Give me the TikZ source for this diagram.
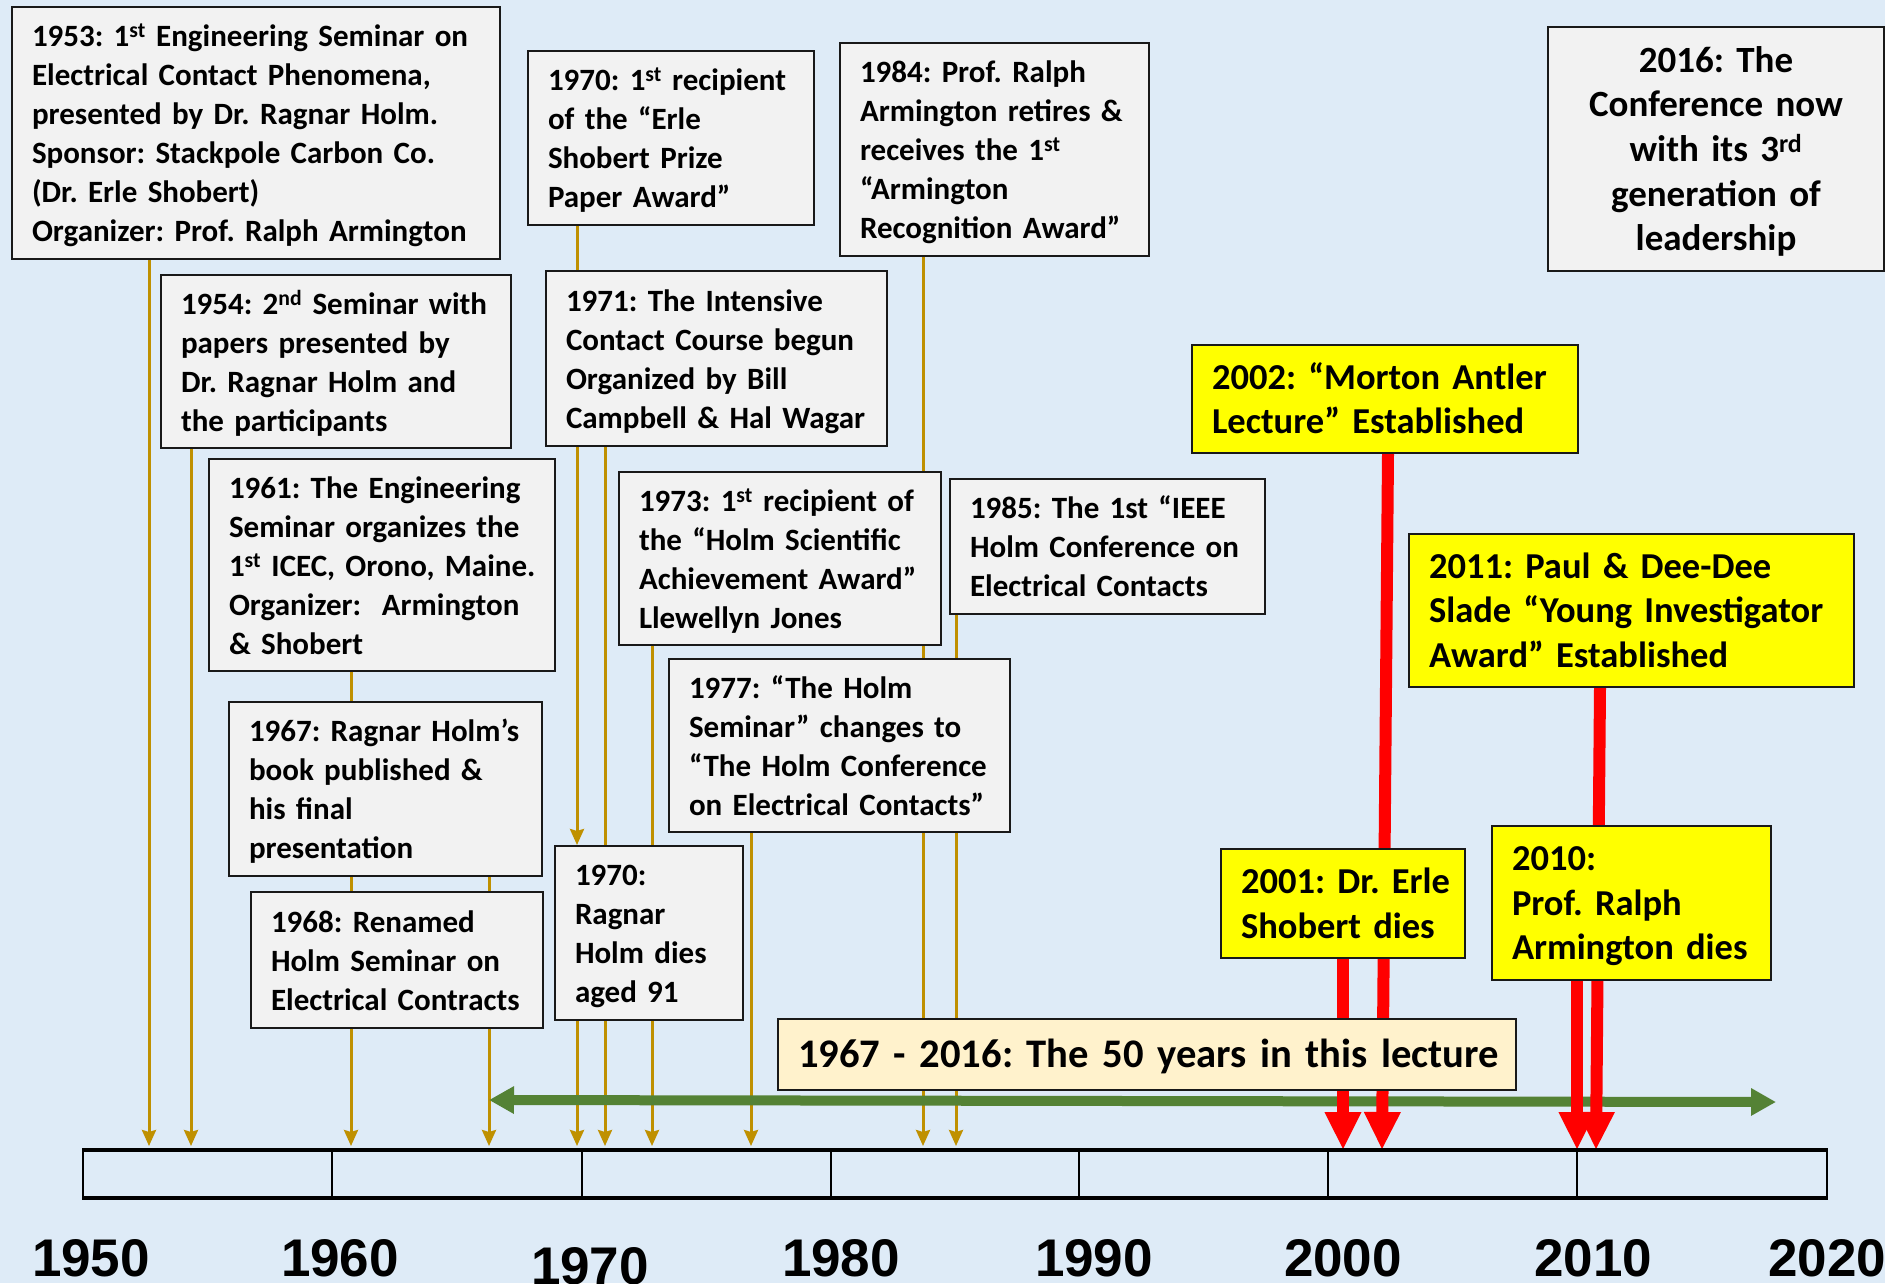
\documentclass[tikz,border=0pt]{standalone}
\usepackage{fontspec}
\setmainfont{Carlito}
\newfontfamily\yearfont{Liberation Sans}
\usetikzlibrary{arrows.meta}
\definecolor{bgblue}{HTML}{DEEBF7}
\definecolor{boxgray}{HTML}{F2F2F2}
\definecolor{goldc}{HTML}{BF9000}
\definecolor{greenarr}{HTML}{548235}
\definecolor{beige}{HTML}{FFF2CC}
\definecolor{yel}{HTML}{FFFF00}
\pgfdeclarelayer{bgfill}
\pgfdeclarelayer{conn}
\pgfsetlayers{bgfill,conn,main}
\newcommand{\Lns}[1]{\raisebox{-3.5pt}[\height][\depth]{\begin{tabular}{@{}l@{}}#1\end{tabular}}}
\newcommand{\Cns}[1]{\raisebox{-3.5pt}[\height][\depth]{\begin{tabular}{@{}c@{}}#1\end{tabular}}}
\frenchspacing
\tikzset{
 gbox/.style={draw=black!90, line width=2pt, fill=boxgray, anchor=north west, inner xsep=20pt, inner ysep=0pt, align=left, font=\bfseries\fontsize{31}{39}\selectfont},
 ybox/.style={gbox, fill=yel, font=\bfseries\fontsize{36.5}{44.5}\selectfont},
 sz/.style n args={3}{minimum width=#1, minimum height=#2, text width=#3},
 gline/.style={goldc, line width=3pt},
 garrow/.style={gline, -{Stealth[length=16pt,width=14pt,inset=2pt]}},
 rarrow/.style={red, line width=12pt, -{Triangle[length=38pt,width=34pt]}},
 garr/.style={greenarr, line width=10pt, {Triangle[length=25pt,width=26pt]}-{Triangle[length=25pt,width=26pt]}},
 yearlbl/.style={font=\yearfont\bfseries\fontsize{53}{60}\selectfont, anchor=base, inner sep=0pt},
}
\begin{document}
\begin{tikzpicture}[x=1pt,y=-1pt]
\begin{pgfonlayer}{bgfill}
\fill[bgblue] (0,0) rectangle (1885,1283);
\end{pgfonlayer}
\useasboundingbox (0,0) rectangle (1885,1283);

% boxes
\node[gbox, sz={488pt}{252pt}{448pt}] (b1953) at (11,6) {\Lns{1953: 1\textsuperscript{st} Engineering Seminar on\\Electrical Contact Phenomena,\\presented by Dr. Ragnar Holm.\\Sponsor: Stackpole Carbon Co.\\(Dr. Erle Shobert)\\Organizer: Prof. Ralph Armington}};
\node[gbox, sz={286pt}{174pt}{246pt}] (b1970a) at (527,50) {\Lns{1970: 1\textsuperscript{st} recipient\\of the “Erle\\Shobert Prize\\Paper Award”}};
\node[gbox, sz={309pt}{213pt}{269pt}] (b1984) at (839,42) {\Lns{1984: Prof. Ralph\\Armington retires \&\\receives the 1\textsuperscript{st}\\“Armington\\Recognition Award”}};
\node[gbox, sz={336pt}{244pt}{296pt}, align=center, font=\bfseries\fontsize{37}{44.6}\selectfont] (b2016) at (1547,26) {\Cns{2016: The\\Conference now\\with its 3\textsuperscript{rd}\\generation of\\leadership}};
\node[gbox, sz={350pt}{173pt}{310pt}] (b1954) at (160,274) {\Lns{1954: 2\textsuperscript{nd} Seminar with\\papers presented by\\Dr. Ragnar Holm and\\the participants}};
\node[gbox, sz={341pt}{175pt}{301pt}] (b1971) at (545,270) {\Lns{1971: The Intensive\\Contact Course begun\\Organized by Bill\\Campbell \& Hal Wagar}};
\node[ybox, sz={386pt}{108pt}{346pt}] (b2002) at (1191,344) {\Lns{2002: “Morton Antler\\Lecture” Established}};
\node[gbox, sz={346pt}{212pt}{306pt}] (b1961) at (208,458) {\Lns{1961: The Engineering\\Seminar organizes the\\1\textsuperscript{st} ICEC, Orono, Maine.\\Organizer:\ \ Armington\\\& Shobert}};
\node[gbox, sz={322pt}{173pt}{282pt}] (b1973) at (618,471) {\Lns{1973: 1\textsuperscript{st} recipient of\\the “Holm Scientific\\Achievement Award”\\Llewellyn Jones}};
\node[gbox, sz={315pt}{135pt}{275pt}] (b1985) at (949,478) {\Lns{1985: The 1st “IEEE\\Holm Conference on\\Electrical Contacts}};
\node[ybox, sz={445pt}{153pt}{405pt}] (b2011) at (1408,533) {\Lns{2011: Paul \& Dee-Dee\\Slade “Young Investigator\\Award” Established}};
\node[gbox, sz={341pt}{173pt}{301pt}] (b1977) at (668,658) {\Lns{1977: “The Holm\\Seminar” changes to\\“The Holm Conference\\on Electrical Contacts”}};
\node[gbox, sz={313pt}{174pt}{273pt}] (b1967) at (228,701) {\Lns{1967: Ragnar Holm’s\\book published \&\\his final\\presentation}};
\node[gbox, sz={292pt}{136pt}{252pt}] (b1968) at (250,891) {\Lns{1968: Renamed\\Holm Seminar on\\Electrical Contracts}};
\node[gbox, sz={188pt}{174pt}{148pt}] (b1970b) at (554,845) {\Lns{1970:\\Ragnar\\Holm dies\\aged 91}};
\node[ybox, sz={244pt}{109pt}{204pt}] (b2001) at (1220,848) {\Lns{2001: Dr. Erle\\Shobert dies}};
\node[ybox, sz={279pt}{154pt}{239pt}] (b2010) at (1491,825) {\Lns{2010:\\Prof. Ralph\\Armington dies}};
\node[gbox, fill=beige, sz={738pt}{71pt}{698pt}, align=center, font=\bfseries\fontsize{40.6}{48}\selectfont] (bspan) at (777,1018) {\Cns{1967 - 2016: The 50 years in this lecture}};

% timeline coordinates
\coordinate (t53) at (149,1146);
\coordinate (t54) at (191,1146);
\coordinate (t61) at (351,1146);
\coordinate (t67) at (489,1146);
\coordinate (t70) at (577,1146);
\coordinate (t71) at (605,1146);
\coordinate (t73) at (652,1146);
\coordinate (t77) at (751,1146);
\coordinate (t84) at (923,1146);
\coordinate (t85) at (956,1146);
\coordinate (r01) at (1343,1150);
\coordinate (r02) at (1382,1150);
\coordinate (r02top) at (1388,0);
\coordinate (r10) at (1577,1150);
\coordinate (r11) at (1596,1150);
\coordinate (r11top) at (1600,0);
\coordinate (gL) at (489,1100);
\coordinate (gR) at (1776,1102);

\begin{pgfonlayer}{conn}
\draw[garrow] (b1953.south -| t53) -- (t53);
\draw[garrow] (b1954.south -| t54) -- (t54);
\draw[garrow] (b1961.south -| t61) -- (t61);
\draw[garrow] (b1967.south -| t67) -- (t67);
\draw[garrow] (b1970a.south -| t70) -- (b1970b.north -| t70);
\draw[garrow] (b1970b.south -| t70) -- (t70);
\draw[garrow] (b1971.south -| t71) -- (t71);
\draw[garrow] (b1973.south -| t73) -- (t73);
\draw[garrow] (b1977.south -| t77) -- (t77);
\draw[garrow] (b1984.south -| t84) -- (t84);
\draw[garrow] (b1985.south -| t85) -- (t85);
\draw[garr] (gL) -- (gR);
\draw[rarrow] (b2001.south -| r01) -- (r01);
\draw[rarrow] (b2002.south -| r02top) -- (r02);
\draw[rarrow] (b2010.south -| r10) -- (r10);
\draw[rarrow] (b2011.south -| r11top) -- (r11);
\end{pgfonlayer}

% timeline bar
\draw[line width=2pt] (83,1150) rectangle (1827,1198);
\draw[line width=4.5pt] (82,1150) -- (1828,1150);
\draw[line width=4.5pt] (82,1198) -- (1828,1198);
\foreach \xx in {332,582,831,1079,1328,1577} \draw[line width=2pt] (\xx,1150) -- (\xx,1198);

% year labels
\node[yearlbl] (y1950) at (91,1276) {1950};
\node[yearlbl] (y1960) at (340,1276) {1960};
\node[yearlbl] (y1970) at (590,1284) {1970};
\node[yearlbl] (y1980) at (841,1276) {1980};
\node[yearlbl] (y1990) at (1094,1276) {1990};
\node[yearlbl] (y2000) at (1343,1276) {2000};
\node[yearlbl] (y2010) at (1593,1276) {2010};
\node[yearlbl] (y2020) at (1827,1276) {2020};
\end{tikzpicture}
\end{document}
